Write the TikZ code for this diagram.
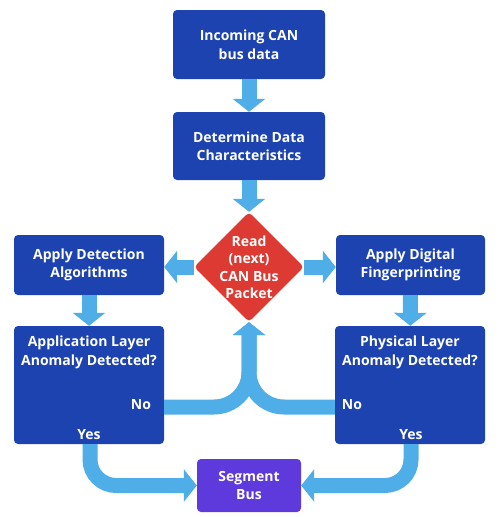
\documentclass[tikz,border=0pt]{standalone}
\usepackage{fontspec}
\setmainfont{Open Sans}
\usetikzlibrary{arrows.meta,shapes.geometric}
\definecolor{boxblue}{RGB}{29,67,176}
\definecolor{arrowblue}{RGB}{79,173,232}
\definecolor{readred}{RGB}{220,58,50}
\definecolor{segpurple}{RGB}{94,58,221}
\begin{document}
\begin{tikzpicture}[x=1pt,y=-1pt,
  box/.style={fill=boxblue, rounded corners=4pt, inner sep=0pt},
  txt/.style={text=white, font=\bfseries\fontsize{14}{18.5}\selectfont, align=center, inner sep=0pt},
  flow/.style={draw=arrowblue, line width=15pt, -{Triangle[length=13pt,width=32pt]}},
  ]
\useasboundingbox (0,0) rectangle (500,517);
% boxes
\node[box, minimum width=152pt, minimum height=69pt] (b1) at (249,44.5) {};
\node[txt] at (b1) {Incoming CAN\\bus data};
\node[box, minimum width=152pt, minimum height=68pt] (b2) at (249,146) {};
\node[txt] at (b2) {Determine Data\\Characteristics};
\node[diamond, fill=readred, rounded corners=4pt, minimum width=110pt, minimum height=110pt, inner sep=0pt] (read) at (249,267) {};
\node[txt, font=\bfseries\fontsize{14}{17.5}\selectfont] at (249,267) {Read\\(next)\\CAN Bus\\Packet};
\node[box, minimum width=150pt, minimum height=60pt] (appdet) at (89,265) {};
\node[txt] at (appdet) {Apply Detection\\Algorithms};
\node[box, minimum width=149pt, minimum height=60pt] (appfp) at (410.5,265) {};
\node[txt] at (appfp) {Apply Digital\\Fingerprinting};
\node[box, minimum width=150pt, minimum height=118pt] (appano) at (89,385) {};
\node[txt] at (89,352.5) {Application Layer\\Anomaly Detected?};
\node[box, minimum width=150pt, minimum height=118pt] (phyano) at (410,385) {};
\node[txt] at (410,352.5) {Physical Layer\\Anomaly Detected?};
\node[box, fill=segpurple, minimum width=104pt, minimum height=53pt] (seg) at (249,485.5) {};
\node[txt] at (seg) {Segment\\Bus};
% labels
\node[txt] (noL) at (141,405) {No};
\node[txt] (yesL) at (89,435) {Yes};
\node[txt] (noR) at (352,405) {No};
\node[txt] (yesR) at (411,435) {Yes};
% connectors
\draw[flow] (b1) -- (b2);
\draw[flow] (b2) -- (read);
\draw[flow] (read.west) -- (appdet.east |- read.west);
\draw[flow] (read.east) -- (appfp.west |- read.east);
\draw[flow] (appdet) -- (appano);
\draw[flow] (appfp) -- (phyano);
\draw[flow, rounded corners=35pt] (appano.east |- 0,407) -- (249,407) -- (read.south);
\draw[flow, rounded corners=35pt] (phyano.west |- 0,407) -- (249,407) -- (read.south);
\draw[flow, rounded corners=26pt] (90,444) -- (90,485.5) -- (seg.west);
\draw[flow, rounded corners=26pt] (411,444) -- (411,485.5) -- (seg.east);
\end{tikzpicture}
\end{document}
